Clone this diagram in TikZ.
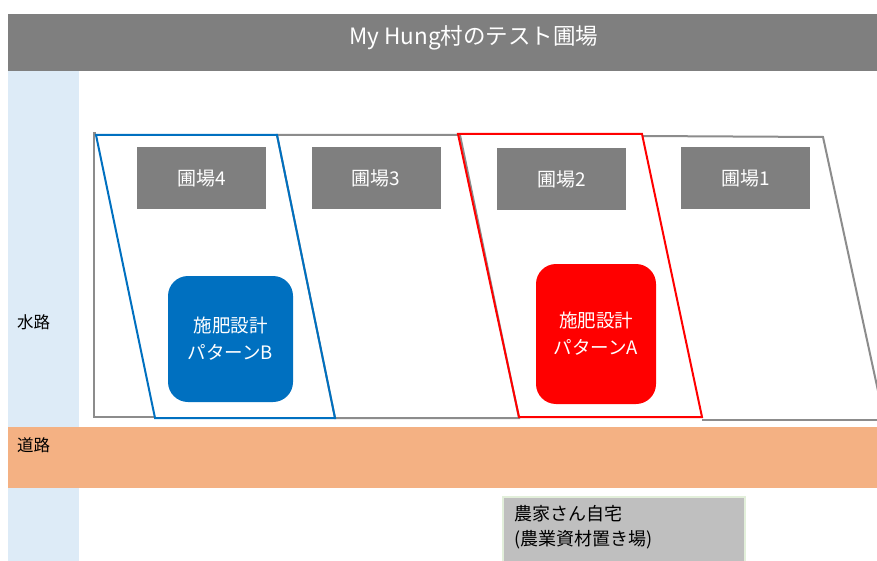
\documentclass[tikz,border=0pt]{standalone}
\usepackage{fontspec}
\setmainfont{Noto Sans CJK JP}
\definecolor{hdrgray}{HTML}{7F7F7F}
\definecolor{lblue}{HTML}{DDEBF7}
\definecolor{road}{HTML}{F4B183}
\definecolor{fgray}{HTML}{8C8C8C}
\definecolor{pblue}{HTML}{0070C0}
\definecolor{pred}{HTML}{FF0000}
\definecolor{homefill}{HTML}{BFBFBF}
\definecolor{homeedge}{HTML}{E2EFDA}
\tikzset{
  fieldline/.style={draw=fgray, line width=2pt, line join=miter},
  fieldlabel/.style={fill=hdrgray, text=white, minimum width=129pt, minimum height=62pt, inner sep=0pt, font=\fontsize{19}{22}\selectfont},
  pattern/.style={rounded corners=20pt, text=white, align=center, inner sep=0pt, font=\fontsize{18.5}{27}\selectfont},
  sidelabel/.style={anchor=west, inner sep=0pt, font=\fontsize{16.5}{18}\selectfont}
}
\begin{document}
\begin{tikzpicture}[x=1pt,y=-1pt]
\useasboundingbox (0,0) rectangle (877,561);
\fill[white] (0,0) rectangle (877,561);
% left water column
\fill[lblue] (8,71) rectangle (79,561);
% road
\fill[road] (8,427) rectangle (877,488);
% header
\fill[hdrgray] (8,14) rectangle (877,71);
\node[text=white, font=\fontsize{22.5}{26}\selectfont] (title) at (474,38) {My Hung村のテスト圃場};
\node[sidelabel] (water) at (17,322) {水路};
\node[sidelabel] (roadlbl) at (17,445) {道路};
% fields
\begin{scope}
\clip (8,71) rectangle (877,427);
\draw[fieldline] (96,133) -- (94,133) -- (94,417) -- (155,417);
\draw[fieldline] (277,135) -- (460,135) -- (519,418) -- (335,418) -- cycle;
\draw[fieldline] (642,136) -- (823,137) -- (880,400);
\draw[fieldline] (702,420) -- (880,420);
\draw[draw=pblue, line width=2pt] (96,135) -- (277,135) -- (335,418) -- (155,418) -- cycle;
\draw[draw=pred, line width=2pt] (458,134) -- (642,134) -- (702,417) -- (519,417) -- cycle;
\end{scope}
% field labels
\node[fieldlabel] (f4) at (201.5,178) {圃場4};
\node[fieldlabel] (f3) at (376,178.5) {圃場3};
\node[fieldlabel] (f2) at (561.5,179.5) {圃場2};
\node[fieldlabel] (f1) at (745.5,178.5) {圃場1};
% patterns
\node[pattern, fill=pblue, minimum width=125pt, minimum height=126pt] (pb) at (230.5,339) {施肥設計\\パターンB};
\node[pattern, fill=pred, minimum width=120pt, minimum height=140pt] (pa) at (596,334) {施肥設計\\パターンA};
% home
\draw[draw=homeedge, line width=1.5pt] (503,562) -- (503,497) -- (745,497) -- (745,562);
\fill[homefill] (503.75,497.75) rectangle (744.25,561);
\node[anchor=north west, align=left, inner sep=0pt, font=\fontsize{18}{25}\selectfont] (home) at (514,505) {農家さん自宅\\(農業資材置き場)};
\end{tikzpicture}
\end{document}
